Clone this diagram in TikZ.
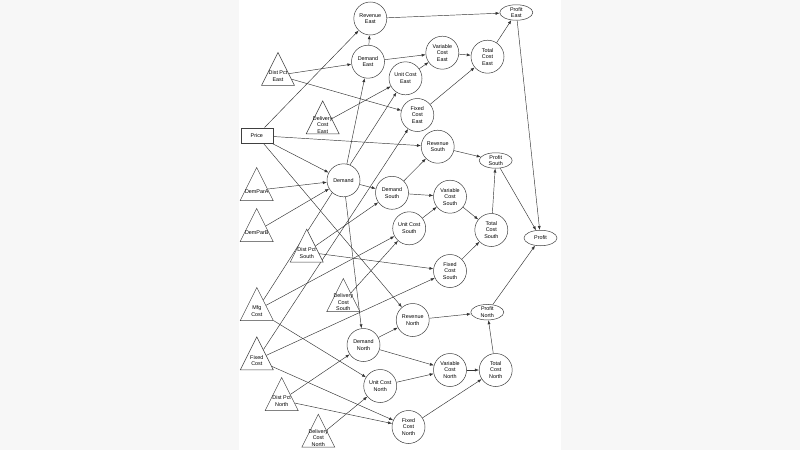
\documentclass[tikz,border=0pt]{standalone}
\usepackage{fontspec}
\setmainfont{Liberation Sans}
\usetikzlibrary{shapes.geometric,arrows.meta,backgrounds}

\newcommand{\lbl}{\fontsize{5.4}{6.6}\selectfont}

\tikzset{
	varbox/.style={circle, draw=black!75, fill=white, line width=0.5pt,
		minimum size=33pt, inner sep=0pt, align=center, font=\lbl},
	goalbox/.style={ellipse, draw=black!75, fill=white, line width=0.5pt,
		minimum width=33pt, minimum height=15.5pt, inner sep=0pt, align=center, font=\lbl},
	parbox/.style={isosceles triangle, isosceles triangle stretches,
		shape border rotate=90, draw=black!75, fill=white, line width=0.5pt,
		minimum width=33pt, minimum height=33pt, inner sep=0pt},
	inbox/.style={rectangle, draw=black!75, fill=white, line width=0.5pt,
		minimum width=32pt, minimum height=15.5pt, inner sep=0pt, font=\lbl},
	lab/.style={align=center, font=\lbl, inner sep=0pt, yshift=-1pt},
	arr/.style={-{Latex[length=4pt,width=3pt]}, line width=0.45pt, black!80},
}

\begin{document}
\begin{tikzpicture}[x=1pt, y=-1pt]
	\useasboundingbox (0,0) rectangle (800,450);
	% inputs
	\node[inbox] (price) at (256.8,135.5) {Price};
	\node[parbox, label={[lab]center:{Dist Pct\\East}}] (distE) at (278,75.3) {};
	\node[parbox, label={[lab]center:{Delivery\\Cost\\East}}] (delE) at (322.7,123.7) {};
	\node[parbox, label={[lab]center:DemParA}] (demParA) at (256.7,190.3) {};
	\node[parbox, label={[lab]center:DemParB}] (demParB) at (256.7,231.3) {};
	\node[parbox, label={[lab]center:{Dist Pct\\South}}] (distS) at (306.7,252) {};
	\node[parbox, label={[lab]center:{Delivery\\Cost\\South}}] (delS) at (343.3,301.3) {};
	\node[parbox, label={[lab]center:{Mfg\\Cost}}] (mfg) at (256.8,310.3) {};
	\node[parbox, label={[lab]center:{Fixed\\Cost}}] (fixed) at (256.8,359.7) {};
	\node[parbox, label={[lab]center:{Dist Pct\\North}}] (distN) at (281.7,400.3) {};
	\node[parbox, label={[lab]center:{Delivery\\Cost\\North}}] (delN) at (318.3,437) {};
	% demand
	\node[varbox] (dem) at (343.5,180.3) {Demand};
	% east
	\node[varbox] (revE) at (370.3,18.5) {Revenue\\East};
	\node[varbox] (demE) at (368,61.7) {Demand\\East};
	\node[varbox] (unitE) at (405.5,78.3) {Unit Cost\\East};
	\node[varbox] (varE) at (442.3,52.7) {Variable\\Cost\\East};
	\node[varbox] (fixE) at (417.3,115) {Fixed\\Cost\\East};
	\node[varbox] (totE) at (487.5,56.7) {Total\\Cost\\East};
	\node[goalbox] (profE) at (516.3,12.5) {Profit\\East};
	% south
	\node[varbox] (revS) at (437.7,146.7) {Revenue\\South};
	\node[varbox] (demS) at (392,192.8) {Demand\\South};
	\node[varbox] (unitS) at (409.2,228.3) {Unit Cost\\South};
	\node[varbox] (varS) at (450,196.7) {Variable\\Cost\\South};
	\node[varbox] (fixS) at (450,271) {Fixed\\Cost\\South};
	\node[varbox] (totS) at (491.3,230) {Total\\Cost\\South};
	\node[goalbox] (profS) at (495.7,160.5) {Profit\\South};
	% north
	\node[varbox] (revN) at (412.7,320) {Revenue\\North};
	\node[varbox] (demN) at (363.5,345) {Demand\\North};
	\node[varbox] (unitN) at (380.2,386) {Unit Cost\\North};
	\node[varbox] (varN) at (450,370) {Variable\\Cost\\North};
	\node[varbox] (fixN) at (408.5,427) {Fixed\\Cost\\North};
	\node[varbox] (totN) at (495.7,370) {Total\\Cost\\North};
	\node[goalbox] (profN) at (487.3,312.2) {Profit\\North};
	% total
	\node[goalbox] (profit) at (540.5,238) {Profit};

	\begin{scope}[on background layer]
		\fill[black!3] (0,0) rectangle (800,450);
		\fill[white] (239,0) rectangle (561,450);
		% price and demand
		\draw[arr] (price) -- (revE);
		\draw[arr] (price) -- (revS);
		\draw[arr] (price) -- (revN);
		\draw[arr] (price) -- (dem);
		\draw[arr] (demParA) -- (dem);
		\draw[arr] (demParB) -- (dem);
		\draw[arr] (dem) -- (demE);
		\draw[arr] (dem) -- (demS);
		\draw[arr] (dem) -- (demN);
		% costs
		\draw[arr] (distE) -- (demE);
		\draw[arr] (distE) -- (fixE);
		\draw[arr] (distS) -- (demS);
		\draw[arr] (distS) -- (fixS);
		\draw[arr] (distN) -- (demN);
		\draw[arr] (distN) -- (fixN);
		\draw[arr] (delE) -- (unitE);
		\draw[arr] (delS) -- (unitS);
		\draw[arr] (delN) -- (unitN);
		\draw[arr] (mfg) -- (unitE);
		\draw[arr] (mfg) -- (unitS);
		\draw[arr] (mfg) -- (unitN);
		\draw[arr] (fixed) -- (fixE);
		\draw[arr] (fixed) -- (fixS);
		\draw[arr] (fixed) -- (fixN);
		% east
		\draw[arr] (demE) -- (revE);
		\draw[arr] (demE) -- (varE);
		\draw[arr] (unitE) -- (varE);
		\draw[arr] (varE) -- (totE);
		\draw[arr] (fixE) -- (totE);
		\draw[arr] (revE) -- (profE);
		\draw[arr] (totE) -- (profE);
		% south
		\draw[arr] (demS) -- (revS);
		\draw[arr] (demS) -- (varS);
		\draw[arr] (unitS) -- (varS);
		\draw[arr] (varS) -- (totS);
		\draw[arr] (fixS) -- (totS);
		\draw[arr] (revS) -- (profS);
		\draw[arr] (totS) -- (profS);
		% north
		\draw[arr] (demN) -- (revN);
		\draw[arr] (demN) -- (varN);
		\draw[arr] (unitN) -- (varN);
		\draw[arr] (varN) -- (totN);
		\draw[arr] (fixN) -- (totN);
		\draw[arr] (revN) -- (profN);
		\draw[arr] (totN) -- (profN);
		% profit
		\draw[arr] (profE) -- (profit);
		\draw[arr] (profS) -- (profit);
		\draw[arr] (profN) -- (profit);
	\end{scope}
\end{tikzpicture}
\end{document}
